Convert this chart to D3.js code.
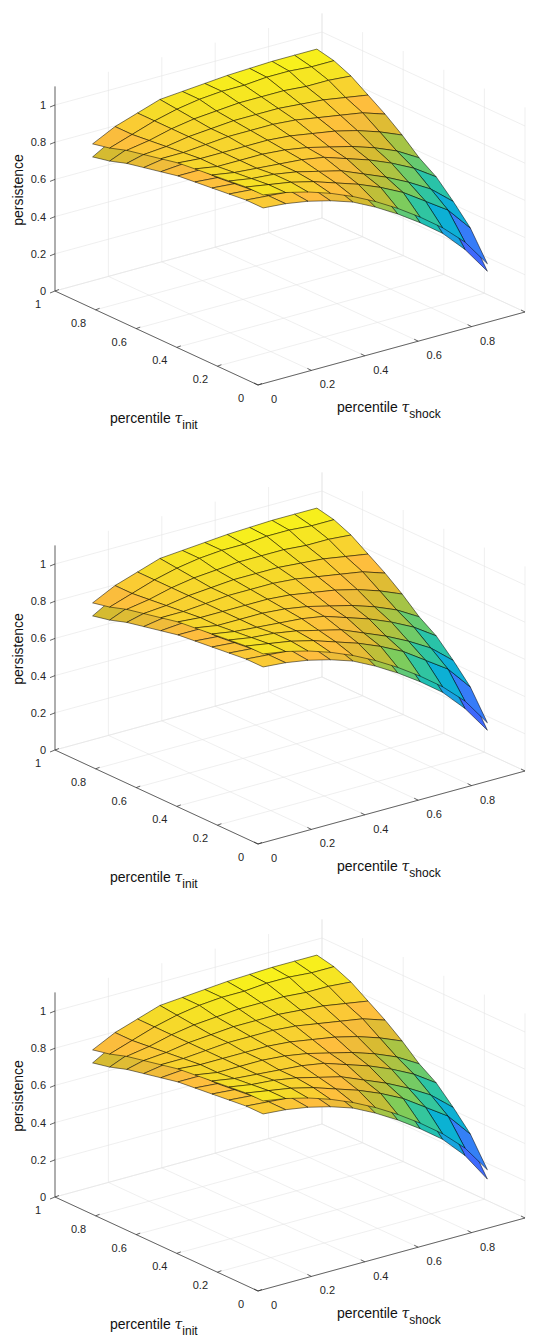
<!DOCTYPE html>
<html><head><meta charset="utf-8">
<script src="https://cdn.jsdelivr.net/npm/d3@7"></script>
<style>body{margin:0;background:#fff}svg{display:block;font-family:"Liberation Sans",Arial,sans-serif}</style>
</head><body>
<script>
// grid positions (percentiles) of the surface nodes
var taus = [0.08,0.164,0.248,0.332,0.416,0.5,0.584,0.668,0.752,0.836,0.92];
// upper surface: rows = tau_init index, cols = tau_shock index
var upper = [
  [0.95,0.93,0.90,0.86,0.81,0.75,0.68,0.60,0.51,0.40,0.25],
  [0.95,0.93,0.91,0.88,0.84,0.80,0.75,0.69,0.61,0.53,0.40],
  [0.94,0.92,0.91,0.89,0.86,0.83,0.78,0.73,0.67,0.60,0.50],
  [0.93,0.91,0.90,0.89,0.88,0.86,0.82,0.78,0.73,0.67,0.59],
  [0.92,0.90,0.90,0.90,0.89,0.87,0.84,0.81,0.77,0.72,0.65],
  [0.91,0.90,0.90,0.90,0.90,0.89,0.87,0.85,0.82,0.78,0.73],
  [0.89,0.89,0.90,0.91,0.91,0.91,0.90,0.88,0.86,0.84,0.80],
  [0.87,0.88,0.90,0.91,0.92,0.92,0.92,0.91,0.90,0.88,0.86],
  [0.85,0.87,0.90,0.92,0.93,0.94,0.94,0.94,0.93,0.93,0.92],
  [0.82,0.86,0.90,0.93,0.95,0.96,0.96,0.97,0.97,0.96,0.96],
  [0.80,0.86,0.90,0.94,0.95,0.96,0.97,0.975,0.98,0.98,0.98]
];
// gap of the lower surface below the upper one, per tau_shock column, per panel
var gaps = [
  [0.07,0.06,0.05,0.04,0.03,0.03,0.03,0.03,0.03,0.04,0.04],
  [0.07,0.06,0.05,0.04,0.03,0.03,0.03,0.03,0.03,0.04,0.04],
  [0.07,0.06,0.05,0.04,0.03,0.03,0.03,0.03,0.03,0.04,0.05]
];
var panelOffsets = [0, 459, 906];
var xyTicks = [0, 0.2, 0.4, 0.6, 0.8, 1];
var zTicks = [0, 0.2, 0.4, 0.6, 0.8, 1];

var width = 536, height = 1344;
var svg = d3.select("body").append("svg").attr("width", width).attr("height", height);

// screen projection: origin corner, tau_init direction, tau_shock direction, z
var ix = d3.scaleLinear().domain([0,1]).range([0,-203]),
    iy = d3.scaleLinear().domain([0,1]).range([0,-94]),
    sx = d3.scaleLinear().domain([0,1]).range([0,267]),
    sy = d3.scaleLinear().domain([0,1]).range([0,-73]),
    zy = d3.scaleLinear().domain([0,1]).range([0,-186]);

// parula colormap samples
var parulaStops = [[62,38,168],[71,71,235],[62,111,255],[39,150,235],[8,181,208],[49,198,159],[129,204,89],[209,187,48],[254,189,62],[245,220,40],[249,251,21]];
var parula = d3.scaleLinear().domain(d3.range(11).map(function(d){return d/10;}))
    .range(parulaStops.map(function(c){return d3.rgb(c[0],c[1],c[2]);}));

var grid = "#e4e4e4", axc = "#262626";

panelOffsets.forEach(function(oy, p) {
  var ox0 = 258, oy0 = 385 + oy;
  function P(i, s, z) { return [ox0 + ix(i) + sx(s), oy0 + iy(i) + sy(s) + zy(z)]; }
  var g = svg.append("g");
  function line(a, b, c, w) {
    g.append("line").attr("x1", a[0]).attr("y1", a[1]).attr("x2", b[0]).attr("y2", b[1])
      .attr("stroke", c).attr("stroke-width", w || 0.6);
  }
  // floor grid
  xyTicks.forEach(function(t) {
    line(P(t,0,0), P(t,1,0), grid);
    line(P(0,t,0), P(1,t,0), grid);
  });
  // back walls
  xyTicks.forEach(function(t) {
    line(P(1,t,0), P(1,t,1.1), grid);
    line(P(t,1,0), P(t,1,1.1), grid);
  });
  zTicks.forEach(function(t) {
    line(P(1,0,t), P(1,1,t), grid);
    line(P(0,1,t), P(1,1,t), grid);
  });
  // axes
  line(P(1,0,0), P(1,0,1.1), axc, 0.7);
  line(P(0,0,0), P(1,0,0), axc, 0.7);
  line(P(0,0,0), P(0,1,0), axc, 0.7);
  zTicks.forEach(function(t) {
    var a = P(1,0,t);
    line(a, [a[0]-5, a[1]+2], axc, 0.7);
    g.append("text").attr("x", a[0]-9).attr("y", a[1]+4).attr("text-anchor","end")
      .attr("font-size", 11).attr("fill", axc).text(t);
  });
  xyTicks.forEach(function(t) {
    var a = P(t,0,0);
    line(a, [a[0]+4, a[1]-1.5], axc, 0.7);
    g.append("text").attr("x", a[0]-17).attr("y", a[1]+17).attr("text-anchor","middle")
      .attr("font-size", 11).attr("fill", axc).text(t);
    var b = P(0,t,0);
    line(b, [b[0]-4, b[1]-2], axc, 0.7);
    if (t < 1) g.append("text").attr("x", b[0]+16).attr("y", b[1]+18).attr("text-anchor","middle")
      .attr("font-size", 11).attr("fill", axc).text(t);
  });
  // titles
  g.append("text").attr("transform", "translate(23," + (190 + oy) + ") rotate(-90)")
    .attr("text-anchor","middle").attr("font-size", 14).attr("fill", "#111").text("persistence");
  var t1 = g.append("text").attr("x", 110).attr("y", 423 + oy).attr("font-size", 14).attr("fill", "#111");
  t1.append("tspan").text("percentile ");
  t1.append("tspan").attr("font-family","DejaVu Serif").attr("font-style","italic").text("τ");
  t1.append("tspan").attr("font-size", 12).attr("dy", 6).text("init");
  var t2 = g.append("text").attr("x", 337).attr("y", 412 + oy).attr("font-size", 14).attr("fill", "#111");
  t2.append("tspan").text("percentile ");
  t2.append("tspan").attr("font-family","DejaVu Serif").attr("font-style","italic").text("τ");
  t2.append("tspan").attr("font-size", 12).attr("dy", 6).text("shock");

  // surfaces
  var lower = upper.map(function(row){ return row.map(function(v, s){ return v - gaps[p][s]; }); });
  var surfaces = [upper, lower];
  var zmin = d3.min(lower, function(r){return d3.min(r);}), zmax = d3.max(upper, function(r){return d3.max(r);});
  var col = d3.scaleLinear().domain([zmin, zmax + 0.02]).range([0, 1]);
  var quads = [];
  surfaces.forEach(function(S, k) {
    for (var a = 0; a < 10; a++) for (var b = 0; b < 10; b++) {
      var zs = [S[a][b], S[a+1][b], S[a+1][b+1], S[a][b+1]];
      var zm = d3.mean(zs);
      quads.push({
        pts: [P(taus[a],taus[b],zs[0]), P(taus[a+1],taus[b],zs[1]), P(taus[a+1],taus[b+1],zs[2]), P(taus[a],taus[b+1],zs[3])],
        depth: (taus[a] + taus[a+1] + taus[b] + taus[b+1]) / 2 - 1.0 * zm,
        fill: parula(col(zm))
      });
    }
  });
  quads.sort(function(q1, q2){ return q2.depth - q1.depth; });
  g.selectAll("path.q").data(quads).enter().append("path")
    .attr("d", function(q){ return "M" + q.pts.join("L") + "Z"; })
    .attr("fill", function(q){ return q.fill; })
    .attr("stroke", "#000").attr("stroke-width", 0.5).attr("stroke-linejoin", "round");
});
</script>
</body></html>
